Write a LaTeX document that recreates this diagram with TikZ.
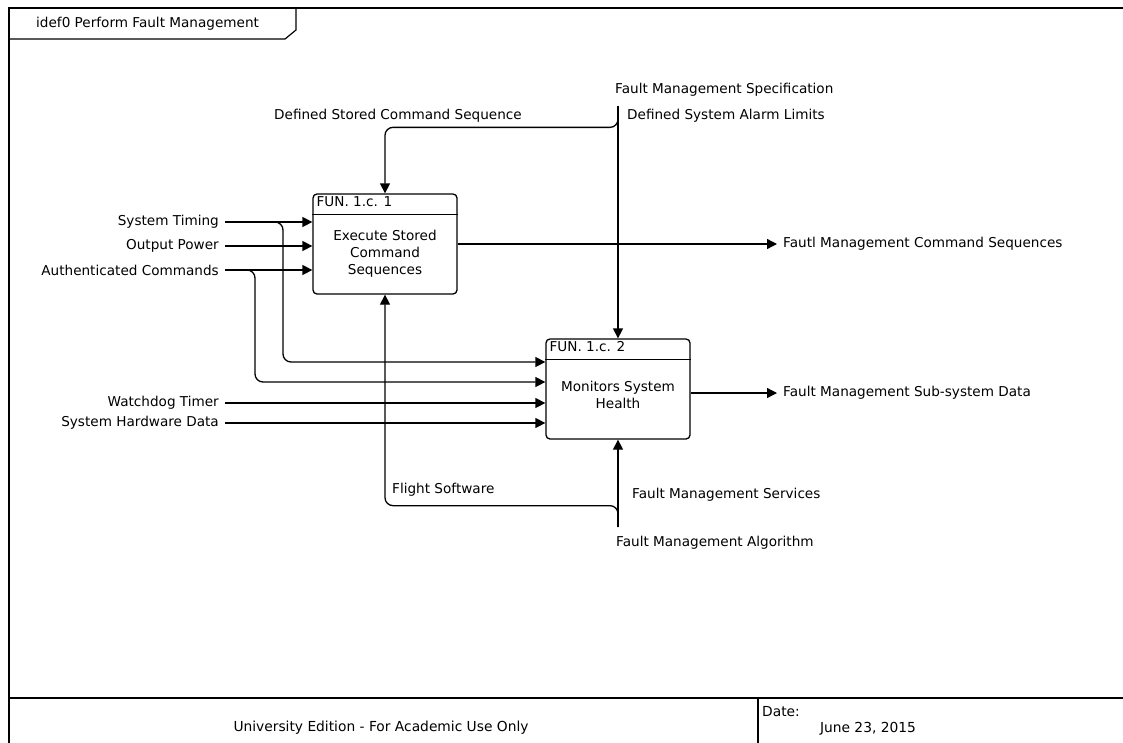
\documentclass[tikz,border=0pt]{standalone}
\usepackage{fontspec}
\setmainfont{DejaVu Sans}
\usetikzlibrary{positioning,arrows.meta}

\begin{document}
\begin{tikzpicture}
		[x=1pt,y=-1pt,
		 flow/.style={-{Triangle[length=10pt,width=10pt]},line width=1.3pt,rounded corners=8pt},
		 fnbox/.style={draw,line width=1.3pt,rounded corners=4pt,minimum width=144pt,minimum height=100pt,inner sep=0pt},
		 fnid/.style={anchor=north west,inner xsep=4pt,inner ysep=3pt,font=\fontsize{13.6}{15}\selectfont},
		 fntext/.style={align=center,font=\fontsize{13.6}{17}\selectfont},
		 lbl/.style={inner sep=1pt,font=\fontsize{13.6}{16}\selectfont},
		 foot/.style={inner sep=0pt,font=\fontsize{13.8}{16}\selectfont}]
		\useasboundingbox (0,0) rectangle (1123,742);

		% sheet frame, title tab and footer
		\draw[line width=2pt] (9,745) -- (9,8) -- (1130,8);
		\draw[line width=1.2pt] (9,39) -- (285,39) -- (296,30) -- (296,8);
		\node[lbl, anchor=west] (title) at (35,24) {idef0 Perform Fault Management};
		\draw[line width=2pt] (9,698) -- (1130,698);
		\draw[line width=1.5pt] (758,698) -- (758,745);
		\node[foot] (edition) at (381,728) {University Edition - For Academic Use Only};
		\node[foot, anchor=west] (datekey) at (762,712) {Date:};
		\node[foot] (dateval) at (868,729) {June 23, 2015};

		% the two activity boxes
		\node[fnbox] (f1) at (385,244) {};
		\draw[line width=1.3pt] ([yshift=-21pt]f1.north west) -- ([yshift=-21pt]f1.north east);
		\node[fnid] (f1id) at (f1.north west) {FUN. 1.c. 1};
		\node[fntext] (f1txt) at ([yshift=-10pt]f1.center) {Execute Stored\\Command\\Sequences};

		\node[fnbox] (f2) at (618,389) {};
		\draw[line width=1.3pt] ([yshift=-21pt]f2.north west) -- ([yshift=-21pt]f2.north east);
		\node[fnid] (f2id) at (f2.north west) {FUN. 1.c. 2};
		\node[fntext] (f2txt) at ([yshift=-6pt]f2.center) {Monitors System\\Health};

		% inputs
		\coordinate (st) at (225,222);
		\coordinate (op) at (225,246);
		\coordinate (ac) at (225,270);
		\coordinate (wd) at (225,403);
		\coordinate (hw) at (225,423);
		\node[lbl, left=5pt of st] (stl) {System Timing};
		\node[lbl, left=5pt of op] (opl) {Output Power};
		\node[lbl, left=5pt of ac] (acl) {Authenticated Commands};
		\node[lbl, left=5pt of wd] (wdl) {Watchdog Timer};
		\node[lbl, left=5pt of hw] (hwl) {System Hardware Data};
		\draw[flow] (st) -- (st -| f1.west);
		\draw[flow] (op) -- (op -| f1.west);
		\draw[flow] (ac) -- (ac -| f1.west);
		\draw[flow] (st) -- (283,222) |- ([yshift=27pt]f2.west);
		\draw[flow] (ac) -- (255,270) |- ([yshift=7pt]f2.west);
		\draw[flow] (wd) -- (wd -| f2.west);
		\draw[flow] (hw) -- (hw -| f2.west);

		% controls
		\coordinate (fms) at (618,106);
		\node[lbl, anchor=west] (fmsl) at (614,90) {Fault Management Specification};
		\node[lbl, anchor=west] (dsal) at (626,116) {Defined System Alarm Limits};
		\node[lbl, anchor=west] (dscl) at (273,116) {Defined Stored Command Sequence};
		\draw[flow] (fms) -- (f2.north);
		\draw[flow] (fms) |- ([yshift=66pt]f1.north) -- (f1.north);

		% outputs
		\coordinate (o1) at (777,244);
		\coordinate (o2) at (777,393);
		\node[lbl, right=5pt of o1] (o1l) {Fautl Management Command Sequences};
		\node[lbl, right=5pt of o2] (o2l) {Fault Management Sub-system Data};
		\draw[flow] (f1.east) -- (o1);
		\draw[flow] (o2 -| f2.east) -- (o2);

		% mechanisms
		\coordinate (fma) at (618,527);
		\node[lbl, anchor=west] (fmal) at (615,543) {Fault Management Algorithm};
		\node[lbl, anchor=west] (fmsv) at (631,495) {Fault Management Services};
		\node[lbl, anchor=west] (fsl) at (391,490) {Flight Software};
		\draw[flow] (fma) -- (f2.south);
		\draw[flow] (fma) |- ([yshift=-211pt]f1.south) -- (f1.south);
	\end{tikzpicture}
\end{document}
